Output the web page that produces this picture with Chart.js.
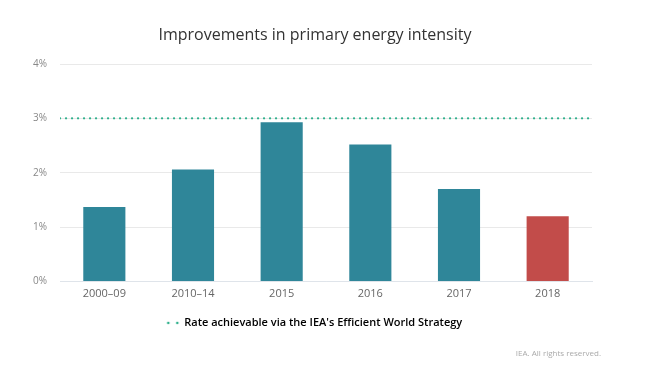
<!DOCTYPE html>
<html>
<head>
<meta charset="utf-8">
<script src="https://cdn.jsdelivr.net/npm/chart.js@4/dist/chart.umd.min.js"></script>
<style>
  html, body { margin: 0; padding: 0; background: #ffffff; }
  #wrap { width: 648px; height: 368px; position: relative; }
</style>
</head>
<body>
<div id="wrap"><canvas id="c" width="648" height="368"></canvas></div>
<script>
const categories = ["2000\u201309", "2010\u201314", "2015", "2016", "2017", "2018"];
const improvementValues = [1.37, 2.06, 2.93, 2.52, 1.70, 1.20];
const targetRate = 3;
const yTicks = [0, 1, 2, 3, 4];
const titleText = "Improvements in primary energy intensity";
const legendText = "Rate achievable via the IEA's Efficient World Strategy";
const footerText = "IEA. All rights reserved.";

const teal = "#2f8699";
const red = "#c24c4a";
const green = "#2fb08c";

const barColors = categories.map((c, i) => i === categories.length - 1 ? red : teal);

// legend marker: two dots
const marker = document.createElement("canvas");
marker.width = 14; marker.height = 6;
(function () {
  const m = marker.getContext("2d");
  m.fillStyle = green;
  [2.0, 11.0].forEach(x => { m.beginPath(); m.arc(x, 3, 1.3, 0, Math.PI * 2); m.fill(); });
})();

const FONT = "'Open Sans', 'Noto Sans', sans-serif";

const footerPlugin = {
  id: "footerNote",
  afterDraw(chart) {
    const ctx = chart.ctx;
    ctx.save();
    ctx.font = "8px " + FONT;
    ctx.fillStyle = "#aaaaaa";
    ctx.textAlign = "right";
    ctx.textBaseline = "middle";
    ctx.fillText(footerText, chart.chartArea.right + 9, 354);
    ctx.restore();
  }
};

new Chart(document.getElementById("c"), {
  type: "bar",
  data: {
    labels: categories,
    datasets: [
      {
        type: "bar",
        label: "Improvement",
        data: improvementValues,
        backgroundColor: barColors,
        barPercentage: 0.475,
        categoryPercentage: 1.0,
        grouped: false,
        xAxisID: "x",
        yAxisID: "y",
        order: 2
      },
      {
        type: "line",
        label: legendText,
        data: [{ x: 0, y: targetRate }, { x: 1, y: targetRate }],
        xAxisID: "x2",
        yAxisID: "y",
        borderColor: green,
        borderWidth: 2.2,
        borderDash: [0.1, 5.9],
        borderCapStyle: "round",
        pointRadius: 0,
        fill: false,
        order: 1
      }
    ]
  },
  options: {
    responsive: false,
    animation: false,
    layout: { padding: { left: 0, right: 18, top: 0, bottom: 29.6 } },
    plugins: {
      tooltip: { enabled: false },
      title: {
        display: true,
        text: titleText,
        color: "#333333",
        font: { family: FONT, size: 16, weight: "normal" },
        padding: { top: 25.4, bottom: 19.4 }
      },
      legend: {
        display: true,
        position: "bottom",
        align: "center",
        labels: {
          usePointStyle: true,
          color: "#333333",
          font: { family: FONT, size: 11, weight: "600" },
          padding: 10,
          generateLabels: chart => [{
            text: legendText,
            datasetIndex: 1,
            pointStyle: marker,
            fillStyle: green,
            strokeStyle: green,
            lineWidth: 0,
            hidden: false
          }]
        }
      }
    },
    scales: {
      x: {
        type: "category",
        offset: true,
        grid: { display: false, drawTicks: false },
        border: { display: true, color: "#dfe4ea", width: 1 },
        ticks: {
          color: "#666666",
          font: { family: FONT, size: 11 },
          padding: 6
        },
        afterFit: a => { a.height = 26; }
      },
      x2: {
        type: "linear",
        display: false,
        offset: false,
        min: 0,
        max: 1
      },
      y: {
        type: "linear",
        position: "left",
        min: 0,
        max: 4,
        afterBuildTicks: a => { a.ticks = yTicks.map(v => ({ value: v })); },
        grid: { color: "#e9e9e9", drawTicks: false, lineWidth: 1 },
        border: { display: false },
        ticks: {
          color: "#888888",
          font: { family: FONT, size: 10 },
          padding: 13,
          callback: v => v + "%"
        },
        afterFit: a => { a.width = 60; }
      },
      yPad: {
        type: "linear",
        position: "right",
        display: true,
        grid: { display: false, drawTicks: false },
        border: { display: false },
        ticks: { display: false },
        afterFit: a => { a.width = 38; }
      }
    }
  },
  plugins: [footerPlugin]
});
</script>
</body>
</html>
